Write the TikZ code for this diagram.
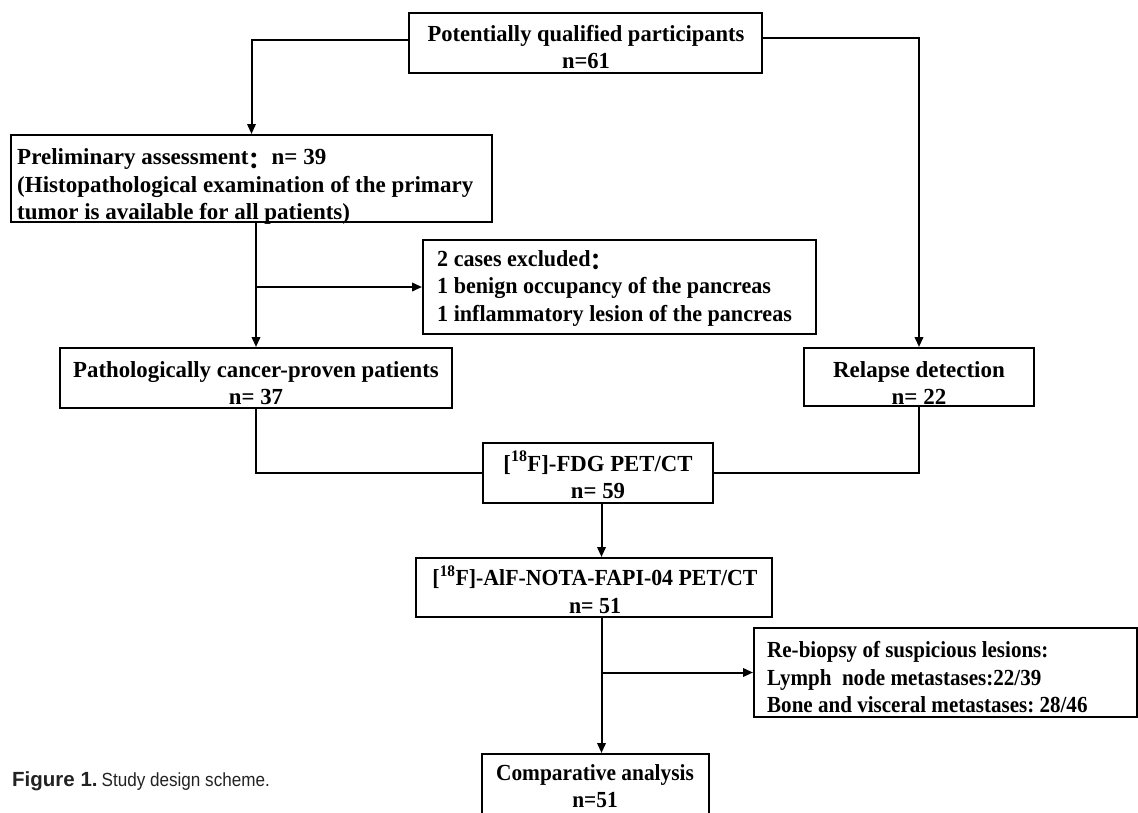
\documentclass[tikz,border=0pt]{standalone}
\usepackage{fontspec}
\usepackage{graphicx}
\setmainfont{Liberation Serif}
\setsansfont{Liberation Sans}
\newfontfamily\cjkfont{Noto Sans CJK SC}
\usetikzlibrary{arrows.meta}
\definecolor{captext}{HTML}{222222}
\newcommand\cjkcolon{{\cjkfont\raisebox{-0.16em}{：}}}
\newcommand\sxl[2]{\scalebox{#1}[1]{\begin{tabular}{@{}l@{}}#2\end{tabular}}}
\newcommand\sxc[2]{\scalebox{#1}[1]{\begin{tabular}{@{}c@{}}#2\end{tabular}}}
\begin{document}
\frenchspacing
\begin{tikzpicture}[x=1pt,y=-1pt,
  frame/.style={draw, line width=2pt, inner sep=0pt},
  txt/.style={inner sep=0pt, font=\bfseries\fontsize{23}{27.5}\selectfont},
  conn/.style={line width=2pt},
  arr/.style={line width=2pt, -{Triangle[length=10pt,width=8.5pt]}},
]
\useasboundingbox (0,0) rectangle (1138,812);
% frames
\node[frame, minimum width=353pt, minimum height=60pt] (p) at (585.5,43) {};
\node[frame, minimum width=481pt, minimum height=87pt] (pre) at (251.5,178.5) {};
\node[frame, minimum width=393pt, minimum height=94pt] (ex) at (619.5,287) {};
\node[frame, minimum width=392pt, minimum height=60pt] (pat) at (256,378) {};
\node[frame, minimum width=230pt, minimum height=58pt] (rel) at (919,377) {};
\node[frame, minimum width=230pt, minimum height=60pt] (fdg) at (598,473) {};
\node[frame, minimum width=356pt, minimum height=59pt] (fapi) at (594,587.5) {};
\node[frame, minimum width=383pt, minimum height=89pt] (rb) at (945.5,672.5) {};
\node[frame, minimum width=227pt, minimum height=66pt] (comp) at (595.5,787) {};
% texts
\node[txt] (pt) at (586,49.5) {\sxc{0.98}{Potentially qualified participants\\n=61}};
\node[txt, anchor=west] (pret) at (17,186.5) {\sxl{1}{Preliminary assessment\cjkcolon n= 39\\(Histopathological examination of the primary\\tumor is available for all patients)}};
\node[txt, anchor=west] (ext) at (437,288) {\sxl{0.96}{2 cases excluded\cjkcolon\\1 benign occupancy of the pancreas\\1 inflammatory lesion of the pancreas}};
\node[txt] (patt) at (256,385.5) {\sxc{0.99}{Pathologically cancer-proven patients\\n= 37}};
\node[txt] (relt) at (919,385.5) {\sxc{1}{Relapse detection\\n= 22}};
\node[txt] (fdgt) at (598,479) {\sxc{0.99}{[\textsuperscript{18}F]-FDG PET/CT\\n= 59}};
\node[txt] (fapit) at (595,593.5) {\sxc{0.95}{[\textsuperscript{18}F]-AlF-NOTA-FAPI-04 PET/CT\\n= 51}};
\node[txt, anchor=west] (rbt) at (767,679.5) {\sxl{0.915}{Re-biopsy of suspicious lesions:\\Lymph\ \ node metastases:22/39\\Bone and visceral metastases: 28/46}};
\node[txt] (compt) at (595,788.5) {\sxc{0.93}{Comparative analysis\\n=51}};
\node[anchor=base west, inner sep=0pt, text=captext] (cap) at (12,786) {{\sffamily\bfseries\fontsize{20.5}{22}\selectfont Figure 1.}\hspace{4pt}\scalebox{0.9}[1]{\sffamily\fontsize{19}{22}\selectfont Study design scheme.}};
% connectors
\coordinate (v) at (601.5,0);
\draw[arr] ([yshift=3pt]p.west) -| (pre.north);
\draw[arr] ([yshift=5pt]p.east) -| (rel.north);
\draw[arr] (pat.north |- pre.south) -- (pat.north);
\draw[arr] (pat.north |- ex.west) -- (ex.west);
\draw[conn] (pat.south) |- (fdg.west);
\draw[conn] (rel.south) |- (fdg.east);
\draw[arr] (fdg.south -| v) -- (fapi.north -| v);
\draw[arr] (fapi.south -| v) -- (comp.north -| v);
\draw[arr] (rb.west -| v) -- (rb.west);
\end{tikzpicture}
\end{document}
